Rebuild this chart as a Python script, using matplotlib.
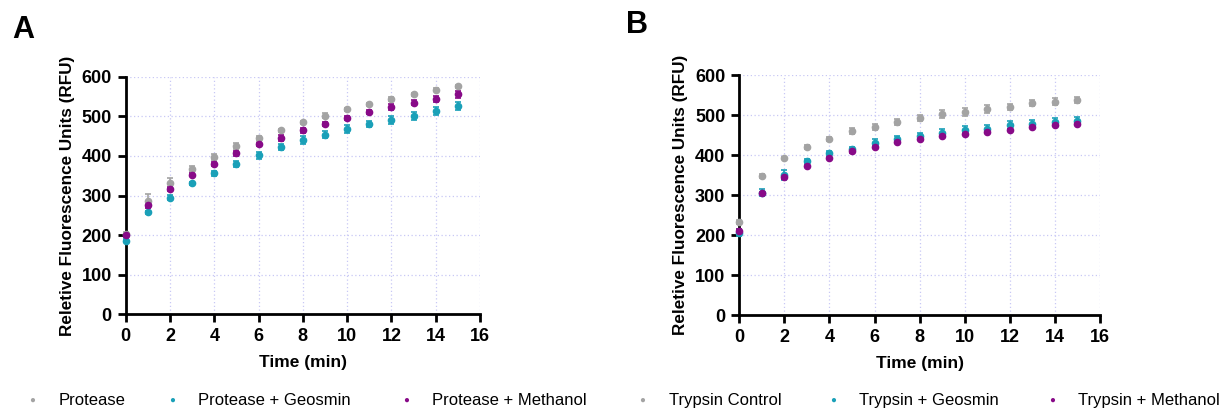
import numpy as np
import matplotlib
matplotlib.use('Agg')
import matplotlib.pyplot as plt

plt.rcParams['font.family'] = ['Liberation Sans', 'DejaVu Sans']

time_min = list(range(16))

# panel A
protease = [203, 286, 332, 367, 398, 425, 445, 465, 485, 502, 518, 531, 544, 556, 567, 576]
protease_err = [5, 18, 12, 8, 7, 7, 6, 4, 4, 6, 4, 4, 4, 4, 4, 4]
protease_geo = [186, 258, 295, 331, 356, 380, 402, 422, 440, 454, 469, 481, 492, 502, 514, 526]
protease_geo_err = [4, 4, 6, 4, 6, 7, 9, 8, 10, 9, 10, 8, 10, 10, 10, 10]
protease_meth = [200, 276, 316, 353, 380, 407, 430, 446, 465, 481, 496, 511, 524, 535, 544, 556]
protease_meth_err = [4, 8, 5, 4, 5, 6, 4, 7, 6, 6, 6, 6, 7, 7, 8, 9]

# panel B
trypsin = [233, 348, 394, 421, 441, 461, 471, 484, 494, 503, 509, 515, 521, 531, 534, 539]
trypsin_err = [5, 5, 3, 6, 6, 8, 7, 7, 8, 10, 10, 10, 7, 8, 9, 8]
trypsin_geo = [207, 307, 351, 386, 406, 417, 432, 442, 449, 456, 464, 467, 475, 479, 484, 487]
trypsin_geo_err = [8, 8, 12, 4, 6, 4, 8, 6, 8, 10, 10, 10, 10, 10, 10, 10]
trypsin_meth = [211, 305, 345, 373, 394, 410, 422, 433, 441, 448, 454, 458, 464, 471, 476, 478]
trypsin_meth_err = [4, 4, 4, 3, 3, 3, 3, 3, 3, 3, 3, 3, 3, 3, 3, 3]

gray = '#a3a3a3'
teal = '#1aa0b8'
purple = '#880a88'

fig = plt.figure(figsize=(12.3, 4.13), dpi=100)
axA = fig.add_axes([0.1022, 0.239, 0.288, 0.575])
axB = fig.add_axes([0.601, 0.2366, 0.2933, 0.581])


def style_axis(ax):
    ax.set_xlim(0, 16)
    ax.set_ylim(0, 600)
    ax.set_xticks(range(0, 17, 2))
    ax.set_yticks(range(0, 601, 100))
    ax.grid(True, color='#c8c8f5', linestyle=(0, (1, 2)), linewidth=0.9)
    ax.set_axisbelow(True)
    for s in ['top', 'right']:
        ax.spines[s].set_visible(False)
    for s in ['left', 'bottom']:
        ax.spines[s].set_linewidth(2)
    ax.tick_params(width=2, length=6, labelsize=13, pad=4)
    for lab in ax.get_xticklabels() + ax.get_yticklabels():
        lab.set_fontweight('bold')
    ax.set_xlabel('Time (min)', fontsize=12.5, fontweight='bold', labelpad=7)
    ax.set_ylabel('Reletive Fluorescence Units (RFU)', fontsize=12.3, fontweight='bold', labelpad=5)


def plot_series(ax, y, err, color, label):
    ax.errorbar(time_min, y, yerr=err, fmt='o', color=color, ms=4.5, elinewidth=1.2,
                capsize=2.5, capthick=1.2, clip_on=False, zorder=3, label=label)


for ax, series in [
    (axA, [(protease, protease_err, gray, 'Protease'),
           (protease_geo, protease_geo_err, teal, 'Protease + Geosmin'),
           (protease_meth, protease_meth_err, purple, 'Protease + Methanol')]),
    (axB, [(trypsin, trypsin_err, gray, 'Trypsin Control'),
           (trypsin_geo, trypsin_geo_err, teal, 'Trypsin + Geosmin'),
           (trypsin_meth, trypsin_meth_err, purple, 'Trypsin + Methanol')]),
]:
    style_axis(ax)
    for y, err, c, lab in series:
        plot_series(ax, y, err, c, lab)

# legends along the bottom (dot x positions in figure fraction)
legA = [('Protease', gray), ('Protease + Geosmin', teal), ('Protease + Methanol', purple)]
legB = [('Trypsin Control', gray), ('Trypsin + Geosmin', teal), ('Trypsin + Methanol', purple)]
legA_x = [0.026, 0.1398, 0.330]
legB_x = [0.522, 0.677, 0.855]
for entries, xs in [(legA, legA_x), (legB, legB_x)]:
    for (txt, c), x in zip(entries, xs):
        fig.text(x, 0.031, '\u25cf', color=c, fontsize=7, ha='center', va='center')
        fig.text(x + 0.0215, 0.031, txt, fontsize=12, ha='left', va='center')

fig.text(0.0098, 0.928, 'A', fontsize=22, fontweight='bold', ha='left', va='center')
fig.text(0.509, 0.94, 'B', fontsize=22, fontweight='bold', ha='left', va='center')

fig.savefig('out.png', dpi=100)
